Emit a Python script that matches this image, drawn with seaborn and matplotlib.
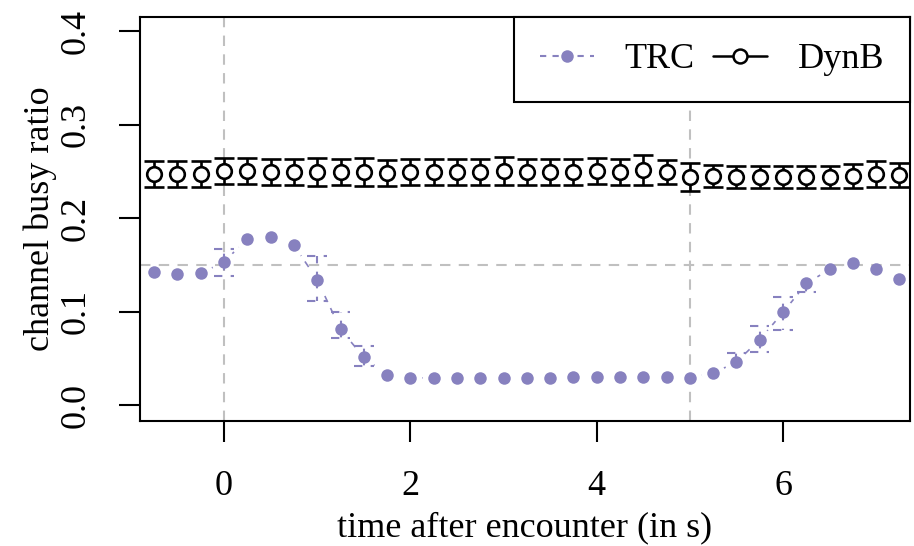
import matplotlib
matplotlib.use("Agg")
import matplotlib.pyplot as plt
from matplotlib.lines import Line2D
import seaborn as sns
import numpy as np

### Data
time_s = [-0.75, -0.5, -0.25, 0.0, 0.25, 0.5, 0.75, 1.0, 1.25, 1.5, 1.75,
          2.0, 2.25, 2.5, 2.75, 3.0, 3.25, 3.5, 3.75, 4.0, 4.25, 4.5, 4.75,
          5.0, 5.25, 5.5, 5.75, 6.0, 6.25, 6.5, 6.75, 7.0, 7.25]

trc = [0.142, 0.140, 0.141, 0.153, 0.178, 0.180, 0.171, 0.134, 0.081, 0.051, 0.032,
       0.029, 0.029, 0.029, 0.029, 0.029, 0.029, 0.029, 0.030, 0.030, 0.030, 0.030, 0.030,
       0.029, 0.034, 0.046, 0.070, 0.099, 0.130, 0.145, 0.152, 0.146, 0.135]
# error bounds (distance below / above mean), 0 = no bar drawn
trc_err_lo = [0, 0, 0, 0.015, 0, 0, 0, 0.023, 0.009, 0.009, 0,
              0, 0, 0, 0, 0, 0, 0, 0, 0, 0, 0, 0,
              0, 0, 0, 0.013, 0.019, 0.0095, 0, 0, 0, 0]
trc_err_hi = [0, 0, 0, 0.014, 0, 0, 0, 0.025, 0.019, 0.012, 0,
              0, 0, 0, 0, 0, 0, 0, 0, 0, 0, 0, 0,
              0, 0, 0.010, 0.014, 0.016, 0, 0, 0, 0, 0]

dynb = [0.247, 0.247, 0.247, 0.250, 0.250, 0.249, 0.249, 0.249, 0.249, 0.249, 0.248,
        0.249, 0.249, 0.249, 0.249, 0.250, 0.249, 0.249, 0.249, 0.250, 0.249, 0.251, 0.249,
        0.244, 0.245, 0.244, 0.244, 0.244, 0.244, 0.244, 0.245, 0.247, 0.246]
dynb_err = [0.014, 0.014, 0.014, 0.014, 0.014, 0.014, 0.014, 0.015, 0.014, 0.015, 0.014,
            0.014, 0.014, 0.014, 0.014, 0.015, 0.014, 0.014, 0.014, 0.014, 0.014, 0.016, 0.013,
            0.015, 0.012, 0.012, 0.012, 0.012, 0.012, 0.012, 0.013, 0.014, 0.013]

x_ticks = [0, 2, 4, 6]
y_ticks = [0.0, 0.1, 0.2, 0.3, 0.4]
ref_x = [0, 5]
ref_y = 0.15

purple = "#8781bf"

### Style
sns.set_theme(style="ticks")
plt.rcParams["font.family"] = ["Liberation Serif", "DejaVu Serif"]
plt.rcParams["font.size"] = 26
plt.rcParams["text.color"] = "black"
plt.rcParams["axes.labelcolor"] = "black"

fig = plt.figure(figsize=(9.14, 5.46), dpi=100)
ax = fig.add_axes([0.1532, 0.2289, 0.8424, 0.74])

t = np.array(time_s)
trc = np.array(trc)
dynb = np.array(dynb)

# reference lines
for xv in ref_x:
    ax.axvline(xv, color="#c0c0c0", lw=1.5, ls=(0, (5, 4)), zorder=2)
ax.axhline(ref_y, color="#c0c0c0", lw=1.5, ls=(0, (5, 4)), zorder=2)

# TRC: dashed connecting line, broken around the points
sns.lineplot(x=t, y=trc, ax=ax, color=purple, lw=1.2, linestyle=(0, (4, 4)),
             zorder=1, legend=False)
ax.scatter(t, trc, s=17 ** 2, color="white", zorder=1.5, linewidths=0)

# TRC error bars (dashed bars and caps)
cap = 0.105
for xi, yi, lo, hi in zip(t, trc, trc_err_lo, trc_err_hi):
    for d in (-lo, hi):
        if d != 0:
            ax.plot([xi, xi], [yi, yi + d], color=purple, lw=1.5,
                    ls=(0, (4, 4)), zorder=2.5)
            ax.plot([xi - cap, xi + cap], [yi + d, yi + d], color=purple, lw=1.5,
                    ls=(0, (4, 4)), zorder=2.5)

sns.scatterplot(x=t, y=trc, ax=ax, color=purple, s=9 ** 2, linewidth=0,
                zorder=3, legend=False)

# DynB: open circles with error bars
ax.errorbar(t, dynb, yerr=dynb_err, fmt="o", ms=10.5, mfc="white", mec="black",
            mew=1.9, ecolor="black", elinewidth=1.9, capsize=7.5, capthick=1.9,
            zorder=3)

ax.set_xlim(-0.902, 7.363)
ax.set_ylim(-0.0171, 0.415)
ax.set_xticks(x_ticks)
ax.set_yticks(y_ticks)
ax.set_yticklabels([f"{v:.1f}" for v in y_ticks], rotation=90, va="center")
ax.tick_params(axis="both", direction="out", length=15, width=1.5, color="black",
               labelsize=26, labelcolor="black")
ax.tick_params(axis="x", pad=20)
ax.tick_params(axis="y", pad=19)
for s in ax.spines.values():
    s.set_visible(True)
    s.set_color("black")
    s.set_linewidth(1.5)

ax.set_xlabel("time after encounter (in s)", fontsize=26, labelpad=6)
ax.set_ylabel("channel busy ratio", fontsize=26, labelpad=2)

# legend
handles = [
    Line2D([], [], color=purple, lw=1.5, ls=(0, (3, 3)), marker="o", ms=9,
           mfc=purple, mec="white", mew=0),
    Line2D([], [], color="black", lw=1.8, marker="o", ms=10, mfc="white",
           mec="black", mew=1.8),
]
leg = ax.legend(handles, ["TRC", "DynB"], loc="upper right", ncol=2,
                frameon=True, fancybox=False, edgecolor="black", fontsize=26,
                handlelength=1.5, columnspacing=0.5,
                borderpad=0.72, borderaxespad=0, handletextpad=0.85)
leg.get_frame().set_linewidth(1.5)
leg.get_frame().set_alpha(1)

fig.savefig("out.png", dpi=100)
